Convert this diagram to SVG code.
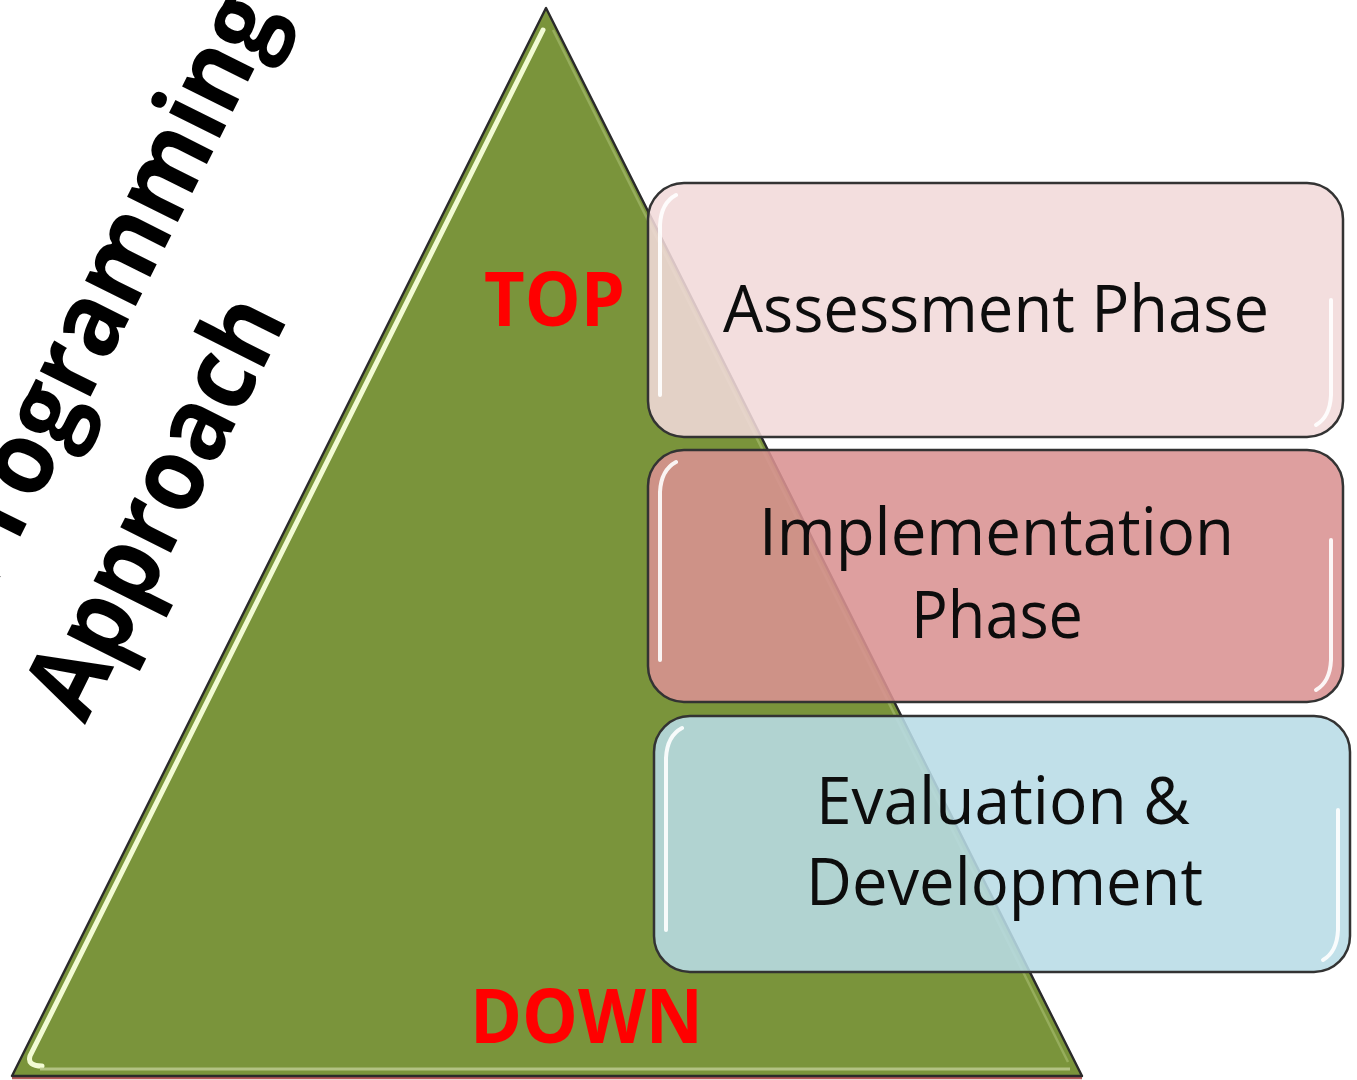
<svg xmlns="http://www.w3.org/2000/svg" width="1357" height="1080" viewBox="0 0 1357 1080">
<style>
.box{stroke:#333333;stroke-width:2.5;fill-opacity:0.88}
.hl{fill:none;stroke:#ffffff;stroke-width:4;stroke-linecap:round;opacity:0.9}
.lbl{font-family:"Open Sans","Liberation Sans",sans-serif;font-size:66px;fill:#0d0d0d}
.red{font-family:"Open Sans","Liberation Sans",sans-serif;font-weight:bold;font-size:76px;fill:#ff0000}
.title{font-family:"Open Sans","Liberation Sans",sans-serif;font-weight:bold;font-size:104px;fill:#000000}
</style>
<rect x="0" y="0" width="1357" height="1080" fill="#ffffff"/>
<g id="title">
  <g transform="translate(85,725) rotate(-63.43)">
    <text class="title" x="72" y="-142" textLength="652" lengthAdjust="spacingAndGlyphs">Programming</text>
    <text class="title" x="0" y="0" textLength="455" lengthAdjust="spacingAndGlyphs">Approach</text>
  </g>
</g>
<g id="pyramid">
  <line x1="12" y1="1078" x2="1082" y2="1078" stroke="#b85a5a" stroke-width="2.5"/>
  <polygon points="546,8 12,1076 1082,1076" fill="#7a943b" stroke="#2a2a2a" stroke-width="2.4" stroke-linejoin="round"/>
  <path d="M543,30 L30,1056 Q27,1066 42,1066" fill="none" stroke="#f2fbd4" stroke-width="5" stroke-linecap="round"/>
  <line x1="553" y1="30" x2="1068" y2="1062" stroke="#a9be72" stroke-width="2.5" opacity="0.6"/>
  <line x1="40" y1="1069" x2="1070" y2="1069" stroke="#bccb90" stroke-width="3" opacity="0.85"/>
</g>
<g id="label-top">
  <text class="red" x="484" y="326" textLength="141" lengthAdjust="spacingAndGlyphs">TOP</text>
</g>
<g id="label-down">
  <text class="red" x="470" y="1043" textLength="233" lengthAdjust="spacingAndGlyphs">DOWN</text>
</g>
<g id="box-assessment">
  <rect class="box" x="648" y="183" width="695" height="254" rx="36" ry="36" fill="#f1d9d9"/>
  <path class="hl" d="M660,395 L660,225 Q661,203 676,195"/>
  <path class="hl" d="M1331,300 L1331,395 Q1330,417 1316,425"/>
  <text class="lbl" x="723" y="332" textLength="546" lengthAdjust="spacingAndGlyphs">Assessment Phase</text>
</g>
<g id="box-implementation">
  <rect class="box" x="648" y="450" width="695" height="252" rx="36" ry="36" fill="#d99292"/>
  <path class="hl" d="M660,660 L660,492 Q661,470 676,462"/>
  <path class="hl" d="M1331,540 L1331,660 Q1330,682 1316,690"/>
  <text class="lbl" x="759" y="555" textLength="475" lengthAdjust="spacingAndGlyphs">Implementation</text>
  <text class="lbl" x="911" y="638" textLength="172" lengthAdjust="spacingAndGlyphs">Phase</text>
</g>
<g id="box-evaluation">
  <rect class="box" x="654" y="716" width="696" height="256" rx="36" ry="36" fill="#b8dce6"/>
  <path class="hl" d="M666,930 L666,758 Q667,736 682,728"/>
  <path class="hl" d="M1338,810 L1338,930 Q1337,952 1323,960"/>
  <text class="lbl" x="816" y="824" textLength="374" lengthAdjust="spacingAndGlyphs">Evaluation &amp;</text>
  <text class="lbl" x="806" y="905" textLength="397" lengthAdjust="spacingAndGlyphs">Development</text>
</g>
</svg>
